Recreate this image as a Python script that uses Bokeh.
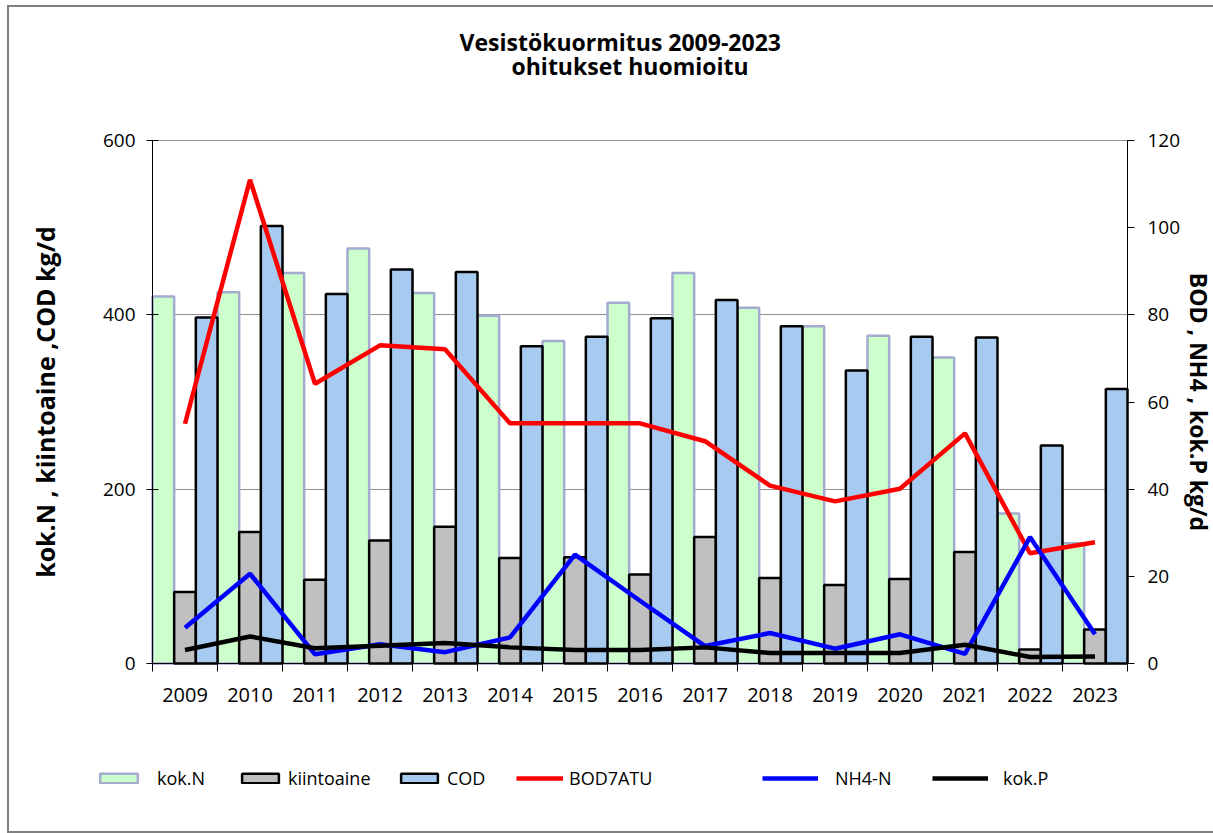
from bokeh.plotting import figure
from bokeh.models import (Range1d, LinearAxis, FixedTicker, ColumnDataSource, Legend, LegendItem, Title)
from bokeh.transform import dodge
from bokeh.embed import file_html
from bokeh.resources import INLINE

# ---- data ----
years = [2009, 2010, 2011, 2012, 2013, 2014, 2015, 2016, 2017, 2018, 2019, 2020, 2021, 2022, 2023]
kok_n = [421, 426, 448, 476, 425, 399, 370, 414, 448, 408, 387, 376, 351, 172, 138]
kiintoaine = [82, 151, 96, 141, 157, 121, 122, 102, 145, 98, 90, 97, 128, 16, 39]
cod = [397, 502, 424, 452, 449, 364, 375, 396, 417, 387, 336, 375, 374, 250, 315]
bod7atu = [55.0, 111.0, 64.2, 73.0, 72.1, 55.1, 55.1, 55.1, 51.0, 40.8, 37.2, 40.1, 52.8, 25.3, 27.8]
nh4_n = [8.2, 20.6, 2.1, 4.4, 2.6, 6.0, 25.0, 14.4, 4.0, 7.0, 3.4, 6.7, 2.2, 29.0, 6.7]
kok_p = [3.1, 6.2, 3.5, 4.1, 4.7, 3.7, 3.1, 3.1, 3.7, 2.4, 2.4, 2.4, 4.3, 1.5, 1.6]
left_ticks = [0, 200, 400, 600]
right_ticks = [0, 20, 40, 60, 80, 100, 120]
title_line1 = "Vesistökuormitus 2009-2023"
title_line2 = "ohitukset  huomioitu"
left_label = "kok.N , kiintoaine ,COD kg/d"
right_label = "BOD , NH4 , kok.P kg/d"

FONT = "Open Sans"

# ---- layout: the frame is enlarged on all sides so that axes (pinned at the
# data edges) and the legend row are drawn inside it ----
CAT_PX = 65.0            # pixels per category
PLOT_PX = 523.0          # pixels for 0..600
EXTRA_LEFT_PX = 132.0
EXTRA_RIGHT_PX = 86.0
EXTRA_BOTTOM_PX = 137.0
EXTRA_TOP_PX = 20.0
x_lo_data = years[0] - 0.5
x_hi_data = years[-1] + 0.5
y_hi = left_ticks[-1]
yr_hi = right_ticks[-1]

src = ColumnDataSource(dict(year=years, kok_n=kok_n, kiintoaine=kiintoaine, cod=cod,
                            bod=bod7atu, nh4=nh4_n, kokp=kok_p))

p = figure(x_range=Range1d(x_lo_data - EXTRA_LEFT_PX / CAT_PX, x_hi_data + EXTRA_RIGHT_PX / CAT_PX),
           y_range=Range1d(-y_hi * EXTRA_BOTTOM_PX / PLOT_PX, y_hi * (1 + EXTRA_TOP_PX / PLOT_PX)),
           frame_width=int(CAT_PX * len(years) + EXTRA_LEFT_PX + EXTRA_RIGHT_PX),
           frame_height=int(PLOT_PX + EXTRA_BOTTOM_PX + EXTRA_TOP_PX),
           min_border_left=11, min_border_right=0, min_border_top=113, min_border_bottom=31,
           output_backend="svg", toolbar_location=None)
p.extra_y_ranges = {"r": Range1d(-yr_hi * EXTRA_BOTTOM_PX / PLOT_PX, yr_hi * (1 + EXTRA_TOP_PX / PLOT_PX))}
p.outline_line_color = None
p.background_fill_color = "white"
p.border_fill_color = "white"
p.styles = {"border-left": "2px solid #808080", "border-top": "2px solid #808080",
            "border-bottom": "2px solid #808080", "margin-left": "7px", "margin-top": "5px"}

# grid
p.xgrid.grid_line_color = None
g = p.ygrid[0]
g.ticker = FixedTicker(ticks=left_ticks)
g.grid_line_color = "#222222"
g.grid_line_dash = "1 1"
g.grid_line_width = 1
if "cross_bounds" in g.properties():
    g.cross_bounds = (x_lo_data, x_hi_data)

# bars
w = 1.0 / 3
r_n = p.vbar(x=dodge('year', -w, range=p.x_range), top='kok_n', width=w, source=src,
             fill_color="#CCFFCC", line_color="#A3ABD0", line_width=2.5)
r_k = p.vbar(x='year', top='kiintoaine', width=w, source=src,
             fill_color="#C0C0C0", line_color="black", line_width=2.5)
r_c = p.vbar(x=dodge('year', w, range=p.x_range), top='cod', width=w, source=src,
             fill_color="#A6CAF0", line_color="black", line_width=2.5)

# lines
r_b = p.line(x='year', y='bod', source=src, y_range_name="r", line_color="#FF0000", line_width=4.5)
r_h = p.line(x='year', y='nh4', source=src, y_range_name="r", line_color="#0000FF", line_width=4.5)
r_p = p.line(x='year', y='kokp', source=src, y_range_name="r", line_color="black", line_width=4.5)

# x axis (pinned at y = 0)
xa = p.xaxis[0]
xa.fixed_location = 0
xa.bounds = (x_lo_data, x_hi_data)
xa.ticker = FixedTicker(ticks=years, minor_ticks=[y - 0.5 for y in years] + [x_hi_data])
xa.major_tick_line_color = None
xa.major_tick_out = 0
xa.major_tick_in = 0
xa.minor_tick_in = 0
xa.minor_tick_out = 8
xa.minor_tick_line_color = "black"
xa.axis_line_color = "black"
xa.major_label_text_font = FONT
xa.major_label_text_font_size = "20px"
xa.major_label_text_color = "black"
xa.major_label_standoff = 16

# left axis (pinned at the first category boundary)
ya = p.yaxis[0]
ya.fixed_location = x_lo_data
ya.bounds = (0, y_hi)
ya.ticker = FixedTicker(ticks=left_ticks)
ya.major_tick_in = 6
ya.major_tick_out = 6
ya.minor_tick_line_color = None
ya.major_label_text_font = FONT
ya.major_label_text_font_size = "19px"
ya.major_label_text_color = "black"
ya.major_label_standoff = 11
ya.axis_label = left_label
ya.axis_label_text_font = FONT
ya.axis_label_text_font_size = "25px"
ya.axis_label_text_font_style = "bold"
ya.axis_label_text_color = "black"
ya.axis_label_standoff = 38

# right axis (pinned at the last category boundary)
ra = LinearAxis(y_range_name="r", ticker=FixedTicker(ticks=right_ticks), bounds=(0, yr_hi),
                fixed_location=x_hi_data)
ra.major_tick_in = 0
ra.major_tick_out = 7
ra.minor_tick_line_color = None
ra.major_label_text_font = FONT
ra.major_label_text_font_size = "19px"
ra.major_label_text_color = "black"
ra.major_label_standoff = 13
ra.axis_label = right_label
ra.axis_label_text_font = FONT
ra.axis_label_text_font_size = "23px"
ra.axis_label_text_font_style = "bold"
ra.axis_label_text_color = "black"
ra.axis_label_standoff = 0
p.add_layout(ra, "right")

# title: spacer nearest the frame, then the two lines
spacer = Title(text=" ", text_font=FONT, text_font_size="2px", standoff=34)
t2 = Title(text=title_line2, align="left", offset=491, text_font=FONT, text_font_size="23px",
           text_font_style="bold", text_color="black", standoff=0)
t1 = Title(text=title_line1, align="left", offset=439, text_font=FONT, text_font_size="23px",
           text_font_style="bold", text_color="black", standoff=-20)
p.add_layout(spacer, "above")
p.add_layout(t2, "above")
p.add_layout(t1, "above")

# legend row, one legend per item, inside the enlarged frame
legend_specs = [
    ("kok.N", r_n, 75, 47, 15),
    ("kiintoaine", r_k, 217, 46, 5),
    ("COD", r_c, 376, 46, 5),
    ("BOD7ATU", r_b, 496, 47, 6),
    ("NH4-N", r_h, 742, 56, 17),
    ("kok.P", r_p, 912, 56, 15),
]
for label, rend, lx, gw, st in legend_specs:
    leg = Legend(items=[LegendItem(label=label, renderers=[rend])],
                 location=(lx, 10), orientation="horizontal",
                 background_fill_alpha=0, border_line_color=None, padding=0, margin=0,
                 glyph_width=gw, glyph_height=12, label_standoff=st,
                 label_text_font=FONT, label_text_font_size="18px", label_text_color="black")
    p.add_layout(leg, "center")

open("out.html", "w").write(file_html(p, INLINE))
